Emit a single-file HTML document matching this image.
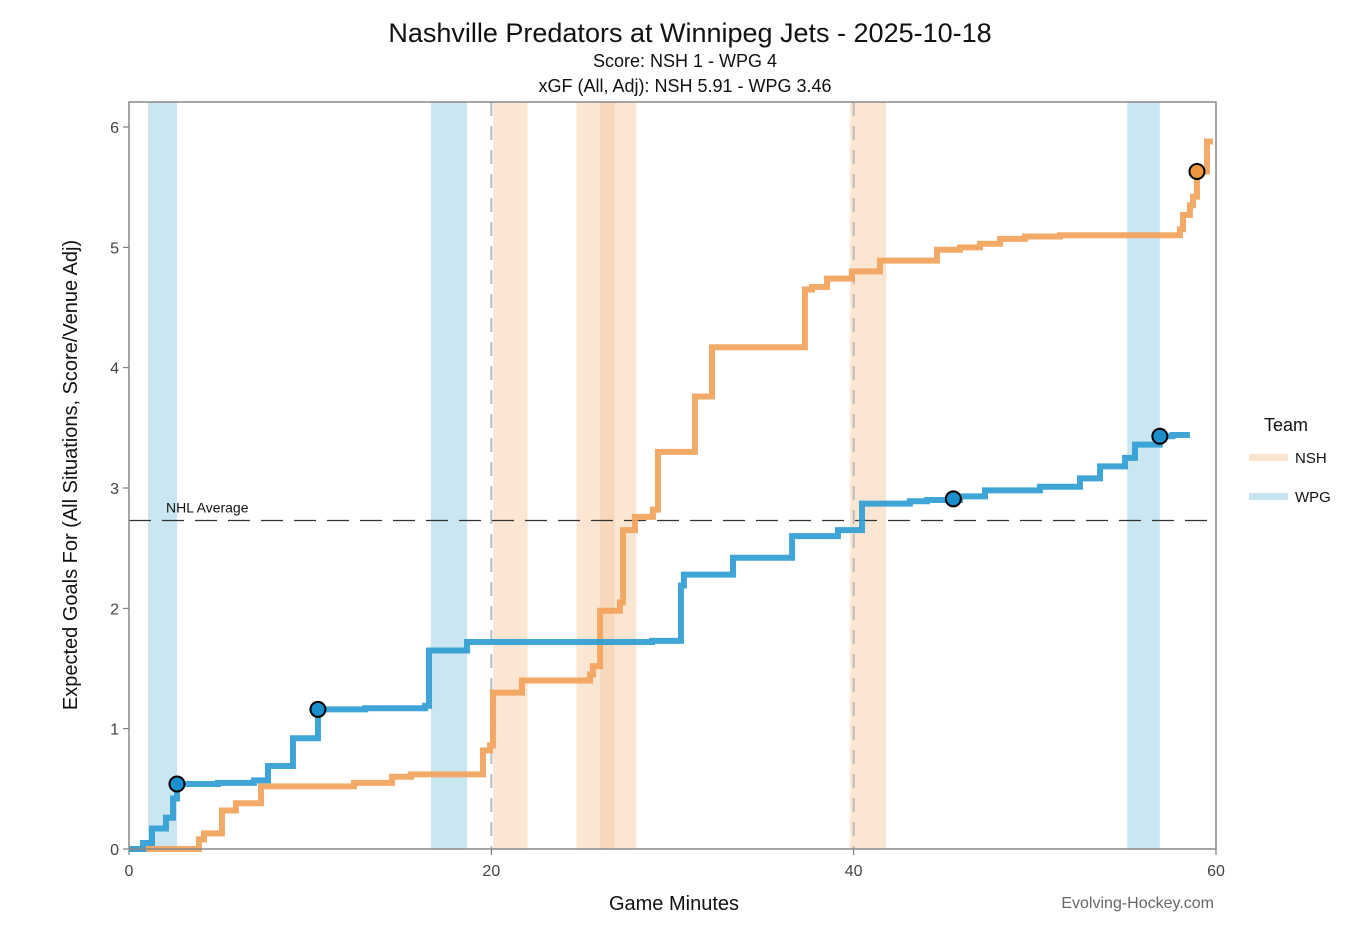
<!DOCTYPE html>
<html><head><meta charset="utf-8">
<style>
body{margin:0;background:#fff;font-family:"Liberation Sans",sans-serif;}
svg text{font-family:"Liberation Sans",sans-serif;}
</style></head>
<body>
<svg id="chart" width="1372" height="944" viewBox="0 0 1372 944" xmlns="http://www.w3.org/2000/svg">
<rect width="1372" height="944" fill="#fff"/>
<text x="690" y="42" text-anchor="middle" font-size="27" fill="#111">Nashville Predators at Winnipeg Jets - 2025-10-18</text>
<text x="685" y="67" text-anchor="middle" font-size="18" fill="#111">Score: NSH 1 - WPG 4</text>
<text x="685" y="92" text-anchor="middle" font-size="18" fill="#111">xGF (All, Adj): NSH 5.91 - WPG 3.46</text>
<g id="bands"></g>
<g id="grid"></g>
<g id="lines"></g>
<rect x="129" y="102" width="1087" height="747" fill="none" stroke="#888" stroke-width="1.5"/>
<text x="674" y="910" text-anchor="middle" font-size="20" fill="#111">Game Minutes</text>
<text transform="translate(77,475) rotate(-90)" text-anchor="middle" font-size="20" fill="#111">Expected Goals For (All Situations, Score/Venue Adj)</text>
<text x="1214" y="908" text-anchor="end" font-size="16" fill="#666">Evolving-Hockey.com</text>
<text x="1264" y="431" font-size="18" fill="#111">Team</text>
<rect x="1249" y="454" width="39" height="7" fill="#fae3cf"/>
<text x="1295" y="463" font-size="15" fill="#111">NSH</text>
<rect x="1249" y="493" width="39" height="7" fill="#c8e5f1"/>
<text x="1295" y="502" font-size="15" fill="#111">WPG</text>
</svg>
<script>
const xTicks=[0,20,40,60];
const yTicks=[0,1,2,3,4,5,6];
const nhlAverage=2.73;
const nshTimes=[0,3.86,4.14,5.13,5.9,7.29,12.42,14.52,15.57,19.54,19.93,20.09,21.69,25.45,25.61,26.0,27.1,27.27,27.93,28.92,29.2,31.24,32.18,37.31,37.7,38.53,39.9,41.45,44.6,45.87,46.97,48.08,49.46,51.39,58.01,58.18,58.56,58.73,58.95,59.5,59.83];
const nshValues=[0,0.08,0.13,0.32,0.38,0.52,0.55,0.60,0.62,0.82,0.86,1.30,1.40,1.45,1.52,1.98,2.05,2.65,2.76,2.82,3.30,3.76,4.17,4.65,4.67,4.74,4.80,4.89,4.98,5.00,5.03,5.07,5.09,5.10,5.15,5.27,5.35,5.42,5.63,5.88,5.88];
const wpgTimes=[0,0.77,1.27,2.04,2.43,2.65,4.91,6.9,7.67,9.05,10.43,13.03,16.34,16.56,18.66,28.87,30.47,30.63,33.34,36.6,39.13,40.46,43.1,44.05,45.87,47.25,50.28,52.49,53.6,54.98,55.53,56.9,57.6,58.56];
const wpgValues=[0,0.05,0.17,0.26,0.42,0.54,0.55,0.57,0.69,0.92,1.16,1.17,1.19,1.65,1.72,1.73,2.19,2.28,2.42,2.60,2.65,2.87,2.89,2.90,2.93,2.98,3.01,3.08,3.18,3.25,3.36,3.43,3.44,3.44];
const nshGoalTimes=[58.95];
const nshGoalValues=[5.63];
const wpgGoalTimes=[2.65,10.43,45.5,56.9];
const wpgGoalValues=[0.54,1.16,2.91,3.43];
const wpgPPStart=[1.05,16.67,55.1];
const wpgPPEnd=[2.65,18.66,56.9];
const nshPPStart=[20.1,24.7,26.0,39.8];
const nshPPEnd=[22.0,26.8,28.0,41.8];

const NS='http://www.w3.org/2000/svg';
const X0=129,X1=1216,Y0=849,Y1=127;
function xs(m){return X0+(m/60)*(X1-X0);}
function ys(v){return Y0-(v/6)*(Y0-Y1);}
function mk(t,a,p){const e=document.createElementNS(NS,t);for(const k in a)e.setAttribute(k,a[k]);p.appendChild(e);return e;}
const bands=document.getElementById('bands'),grid=document.getElementById('grid'),lines=document.getElementById('lines');
for(let i=0;i<wpgPPStart.length;i++){
  const r=mk('rect',{x:xs(wpgPPStart[i]),y:102,width:xs(wpgPPEnd[i])-xs(wpgPPStart[i]),height:747,fill:'#9fd1e6','fill-opacity':0.55},bands);
  
  
}
for(let i=0;i<nshPPStart.length;i++){
  const r=mk('rect',{x:xs(nshPPStart[i]),y:102,width:xs(nshPPEnd[i])-xs(nshPPStart[i]),height:747,fill:'#f5c79e','fill-opacity':0.45},bands);
  
  
}
[20,40].forEach(m=>{
  const l=mk('line',{x1:xs(m),x2:xs(m),y1:102,y2:849,stroke:'#bbb','stroke-width':2,'stroke-dasharray':'14,10'},grid);
  
  
});
xTicks.forEach(t=>{
  const l=mk('line',{x1:xs(t),x2:xs(t),y1:849,y2:855,stroke:'#666'},grid);
  
  
  const tx=mk('text',{x:xs(t),y:876,'text-anchor':'middle','font-size':16,fill:'#444'},grid);
  tx.textContent=t;
  
  
});
yTicks.forEach(t=>{
  const l=mk('line',{x1:123,x2:129,y1:ys(t),y2:ys(t),stroke:'#666'},grid);
  
  
  const tx=mk('text',{x:119,y:ys(t)+6,'text-anchor':'end','font-size':16,fill:'#444'},grid);
  tx.textContent=t;
  
  
});
const avg=mk('line',{x1:129,x2:1216,y1:ys(nhlAverage),y2:ys(nhlAverage),stroke:'#333','stroke-width':1.3,'stroke-dasharray':'22,11'},grid);


const at=mk('text',{x:166,y:ys(nhlAverage)-8,'font-size':14,fill:'#111'},grid);
at.textContent='NHL Average';


function stepPath(t,v){let d='M'+xs(t[0])+','+ys(v[0]);for(let i=1;i<t.length;i++){d+=' H'+xs(t[i])+' V'+ys(v[i]);}return d;}
const np=mk('path',{d:stepPath(nshTimes,nshValues),fill:'none',stroke:'#f2a35b','stroke-width':6,'stroke-opacity':0.92},lines);


const wp=mk('path',{d:stepPath(wpgTimes,wpgValues),fill:'none',stroke:'#2f9dd2','stroke-width':6,'stroke-opacity':0.92},lines);


for(let i=0;i<wpgGoalTimes.length;i++){
  const c=mk('circle',{cx:xs(wpgGoalTimes[i]),cy:ys(wpgGoalValues[i]),r:7.5,fill:'#1b8fcb',stroke:'#000','stroke-width':2},lines);
  
  
}
for(let i=0;i<nshGoalTimes.length;i++){
  const c=mk('circle',{cx:xs(nshGoalTimes[i]),cy:ys(nshGoalValues[i]),r:7.5,fill:'#f0963c',stroke:'#000','stroke-width':2},lines);
  
  
}
</script>
</body></html>
